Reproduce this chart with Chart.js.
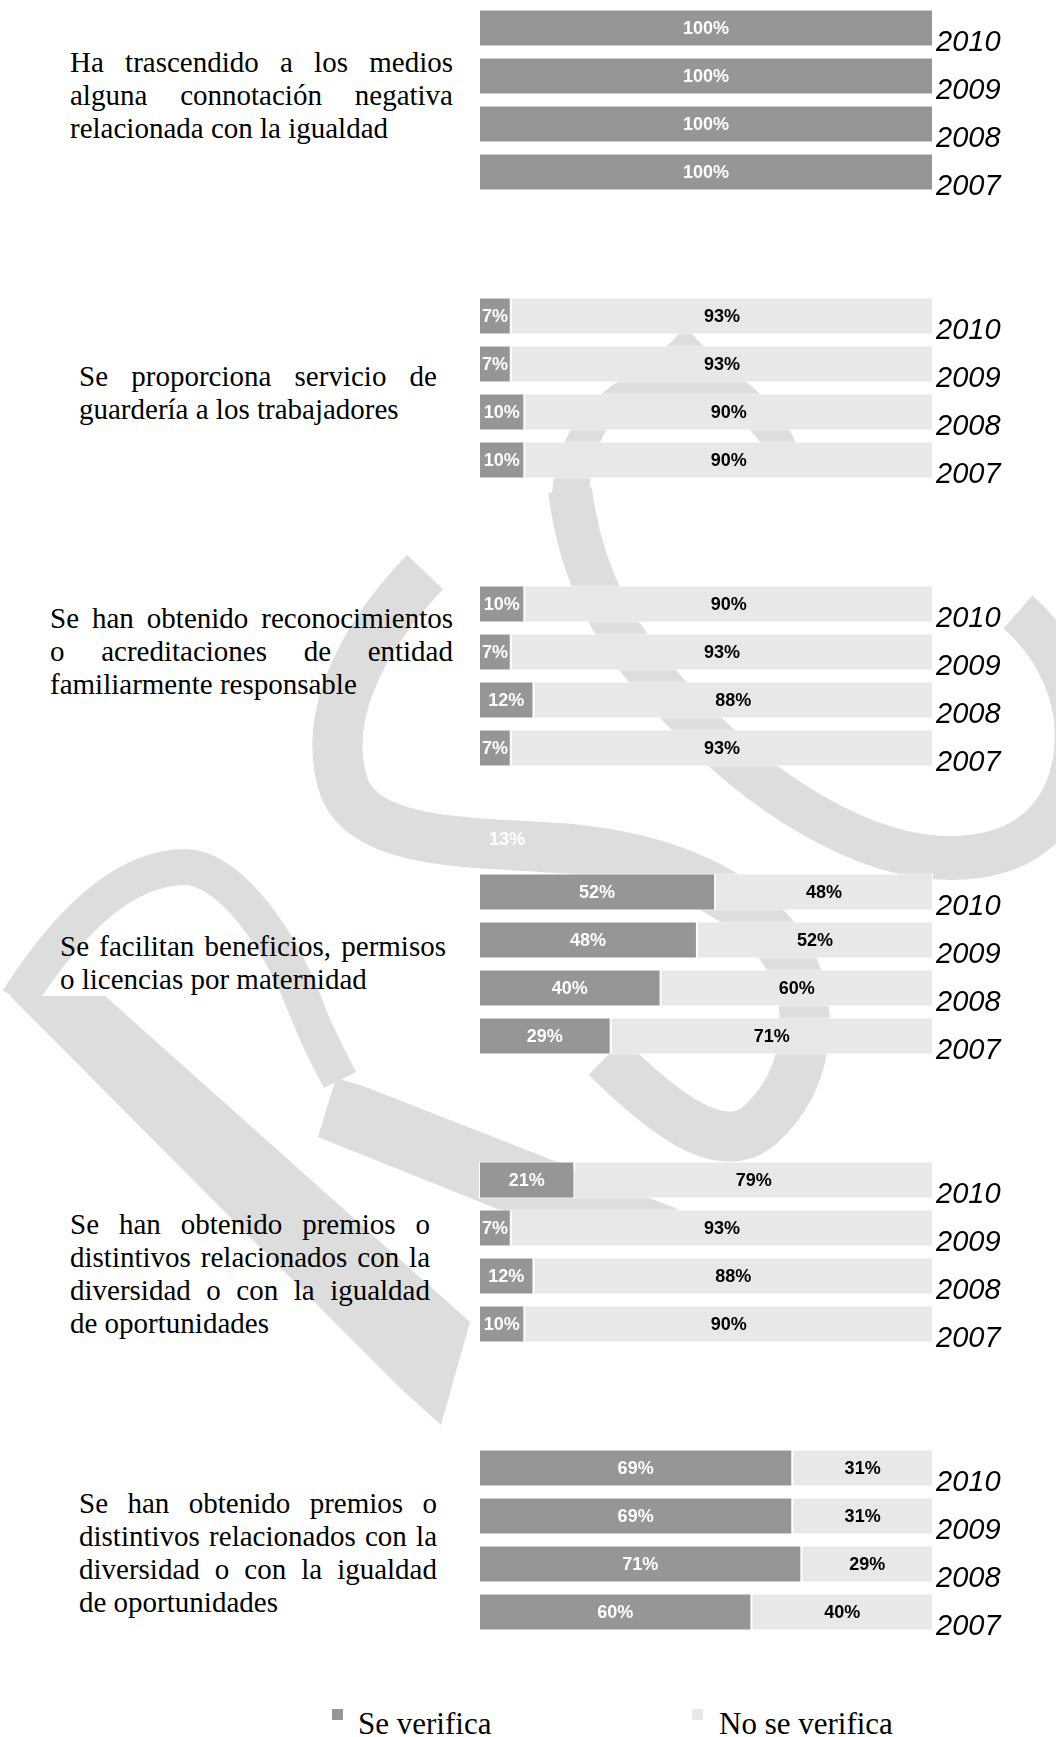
<!DOCTYPE html>
<html lang="es">
<head>
<meta charset="utf-8">
<title>Igualdad y conciliación 2007-2010</title>
<script src="https://cdn.jsdelivr.net/npm/chart.js@4.4.1/dist/chart.umd.min.js"></script>
<style>
  html, body { margin: 0; padding: 0; background: #fff; }
  #pagina { position: relative; width: 1056px; height: 1737px; overflow: hidden; }
  #marca { position: absolute; left: 0; top: 0; }
  .pregunta { position: absolute; font-family: "Liberation Serif", "Times New Roman", serif;
              font-size: 29px; line-height: 33px; color: #000; }
  .pregunta div { text-align: justify; text-align-last: justify; }
  .pregunta div.fin { text-align: left; text-align-last: left; }
  .grafico { position: absolute; left: 479px; }
  .suelto { position: absolute; left: 489px; top: 829px; color: #fff;
            font: bold 18px "Liberation Sans", Arial, sans-serif; }
  .leyenda { position: absolute; top: 1706px; font-family: "Liberation Serif", "Times New Roman", serif;
             font-size: 31px; line-height: 36px; color: #000; }
  .muestra { position: absolute; top: 1709px; width: 11px; height: 11px; }
</style>
</head>
<body>
<div id="pagina">
  <!-- marca de agua RS -->
  <svg id="marca" width="1056" height="1737" viewBox="0 0 1056 1737">
    <g fill="#dddddd" stroke="none">
      <path d="M552 500 C553 450 575 410 620 380 C650 360 672 345 685 326 C700 345 725 365 750 385 C780 410 800 440 803 470 L772 470 C768 445 750 425 720 410 C690 398 650 400 620 415 C600 430 592 460 588 500 Z"/>
      <path d="M10 996 L105 996 L470 1322 L441 1425 L398 1386 Z"/>
      <path d="M318 1137 L336 1078 L363 1086 L680 1210 L600 1232 L505 1212 Z"/>
    </g>
    <g fill="none" stroke="#dddddd">
      <path stroke-width="44" d="M570 490 C580 570 610 640 695 722 C760 790 860 858 950 858 C1040 858 1082 800 1076 720 C1072 680 1050 640 1018 612"/>
      <path stroke-width="50" d="M425 572 C360 640 320 720 345 790 C370 845 470 842 560 848 C660 856 750 890 790 960 C815 1010 810 1080 760 1125 C720 1160 660 1110 606 1057"/>
      <path stroke-width="36" d="M18 1000 C50 950 110 868 184 867 C230 867 280 940 305 1005 C318 1040 330 1060 340 1080"/>
    </g>
  </svg>

  <div class="pregunta" style="left:70px; top:46px; width:383px;">
    <div>Ha trascendido a los medios</div>
    <div>alguna connotación negativa</div>
    <div class="fin">relacionada con la igualdad</div>
  </div>
  <div class="pregunta" style="left:79px; top:360px; width:358px;">
    <div>Se proporciona servicio de</div>
    <div class="fin">guardería a los trabajadores</div>
  </div>
  <div class="pregunta" style="left:50px; top:602px; width:403px;">
    <div>Se han obtenido reconocimientos</div>
    <div>o acreditaciones de entidad</div>
    <div class="fin">familiarmente responsable</div>
  </div>
  <div class="pregunta" style="left:60px; top:930px; width:386px;">
    <div>Se facilitan beneficios, permisos</div>
    <div class="fin">o licencias por maternidad</div>
  </div>
  <div class="pregunta" style="left:70px; top:1208px; width:360px;">
    <div>Se han obtenido premios o</div>
    <div>distintivos relacionados con la</div>
    <div>diversidad o con la igualdad</div>
    <div class="fin">de oportunidades</div>
  </div>
  <div class="pregunta" style="left:79px; top:1487px; width:358px;">
    <div>Se han obtenido premios o</div>
    <div>distintivos relacionados con la</div>
    <div>diversidad o con la igualdad</div>
    <div class="fin">de oportunidades</div>
  </div>

  <div class="grafico" style="top:4px;"><canvas id="g0" width="577" height="192"></canvas></div>
  <div class="grafico" style="top:292px;"><canvas id="g1" width="577" height="192"></canvas></div>
  <div class="grafico" style="top:580px;"><canvas id="g2" width="577" height="192"></canvas></div>
  <div class="grafico" style="top:868px;"><canvas id="g3" width="577" height="192"></canvas></div>
  <div class="grafico" style="top:1156px;"><canvas id="g4" width="577" height="192"></canvas></div>
  <div class="grafico" style="top:1444px;"><canvas id="g5" width="577" height="192"></canvas></div>

  <div class="suelto">13%</div>

  <div class="muestra" style="left:332px; background:#969696;"></div>
  <div class="leyenda" style="left:358px;">Se verifica</div>
  <div class="muestra" style="left:692px; background:#e8e8e8;"></div>
  <div class="leyenda" style="left:719px;">No se verifica</div>
</div>

<script>
// años, de arriba abajo en cada bloque
var anios = ['2010', '2009', '2008', '2007'];

// % de empresas en que se verifica cada pregunta (un bloque por pregunta)
var seVerifica = [
  [100, 100, 100, 100],
  [7, 7, 10, 10],
  [10, 7, 12, 7],
  [52, 48, 40, 29],
  [21, 7, 12, 10],
  [69, 69, 71, 60]
];
var noSeVerifica = [
  [0, 0, 0, 0],
  [93, 93, 90, 90],
  [90, 93, 88, 93],
  [48, 52, 60, 71],
  [79, 93, 88, 90],
  [31, 31, 29, 40]
];

var colorSi = '#969696';
var colorNo = '#e8e8e8';
var textoSi = '#ffffff';
var textoNo = '#000000';

// escribe el porcentaje en el centro de cada tramo
var etiquetas = {
  id: 'etiquetas',
  afterDatasetsDraw: function (chart) {
    var ctx = chart.ctx;
    ctx.save();
    ctx.font = 'bold 18px "Liberation Sans", Arial, sans-serif';
    ctx.textAlign = 'center';
    ctx.textBaseline = 'middle';
    chart.data.datasets.forEach(function (ds, i) {
      chart.getDatasetMeta(i).data.forEach(function (barra, j) {
        var v = ds.data[j];
        if (!v) return;
        ctx.fillStyle = i === 0 ? textoSi : textoNo;
        ctx.fillText(v + '%', (barra.x + barra.base) / 2, barra.y + 1);
      });
    });
    ctx.restore();
  }
};

window.addEventListener('load', function () {
  for (var k = 0; k < seVerifica.length; k++) {
    var canvas = document.getElementById('g' + k);
    if (!canvas) continue;
    new Chart(canvas.getContext('2d'), {
      type: 'bar',
      data: {
        labels: anios,
        datasets: [
          { label: 'Se verifica', data: seVerifica[k], backgroundColor: colorSi,
            borderColor: '#ffffff', borderWidth: 1, borderSkipped: false },
          { label: 'No se verifica', data: noSeVerifica[k], backgroundColor: colorNo,
            borderColor: '#ffffff', borderWidth: 1, borderSkipped: false }
        ]
      },
      options: {
        indexAxis: 'y',
        responsive: false,
        animation: false,
        barPercentage: 1,
        categoryPercentage: 0.77,
        layout: { padding: 0 },
        plugins: { legend: { display: false }, tooltip: { enabled: false } },
        scales: {
          x: { stacked: true, min: 0, max: 100, display: false },
          y: {
            stacked: true,
            position: 'right',
            grid: { display: false, drawTicks: false },
            border: { display: false },
            ticks: {
              color: '#000',
              padding: 3,
              labelOffset: 15,
              font: { family: '"Liberation Sans", Arial, sans-serif', size: 29, style: 'italic' }
            },
            // ancho fijo para la columna de años y sin márgenes verticales
            afterFit: function (scale) {
              scale.width = 123;
              scale.paddingTop = 0;
              scale.paddingBottom = 0;
            }
          }
        }
      },
      plugins: [etiquetas]
    });
  }
});
</script>
</body>
</html>
